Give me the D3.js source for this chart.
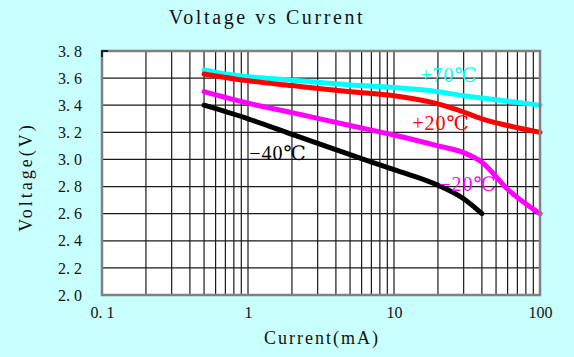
<!DOCTYPE html>
<html><head><meta charset="utf-8">
<script src="https://cdn.jsdelivr.net/npm/d3@7"></script>
<style>
html,body{margin:0;padding:0;background:#c8ffff;}
svg{display:block;}
text{font-family:"Liberation Serif","DejaVu Serif",serif;}
</style></head><body>
<svg id="chart" width="574" height="357"></svg>
<script>
// ---- data ----
const xTickValues = [0.1, 1, 10, 100];
const xTickLabels = ["0. 1", "1", "10", "100"];
const yTickValues = [2.0, 2.2, 2.4, 2.6, 2.8, 3.0, 3.2, 3.4, 3.6, 3.8];
const yTickLabels = ["2. 0","2. 2","2. 4","2. 6","2. 8","3. 0","3. 2","3. 4","3. 6","3. 8"];

const currentP70 = [0.5, 0.7, 1, 2, 5, 10, 20, 30, 50, 100];
const voltageP70 = [3.66, 3.63, 3.61, 3.585, 3.55, 3.53, 3.50, 3.47, 3.44, 3.40];

const currentP20 = [0.5, 1, 2, 5, 10, 20, 30, 40, 60, 100];
const voltageP20 = [3.63, 3.58, 3.545, 3.50, 3.47, 3.41, 3.35, 3.30, 3.25, 3.20];

const currentM20 = [0.5, 1, 2, 5, 10, 20, 30, 40, 60, 100];
const voltageM20 = [3.50, 3.415, 3.345, 3.25, 3.18, 3.10, 3.05, 2.98, 2.78, 2.60];

const currentM40 = [0.5, 1, 2, 5, 10, 20, 30, 40];
const voltageM40 = [3.40, 3.30, 3.185, 3.035, 2.925, 2.81, 2.71, 2.60];

const seriesNames = ["+70℃", "+20℃", "−20℃", "−40℃"];
const seriesColors = ["#00ffff", "#ff0000", "#ff00ff", "#000000"];

// ---- chart ----
const svg = d3.select("#chart");
const L = 102, R = 540, T = 51, B = 295;
const x = d3.scaleLog().domain([0.1, 100]).range([L, R]);
const y = d3.scaleLinear().domain([2.0, 3.8]).range([B, T]);

svg.append("rect").attr("x", L).attr("y", T).attr("width", R - L).attr("height", B - T).attr("fill", "#ffffff");

// grid
const minor = [];
for (let d = 0.1; d < 100; d *= 10) for (let k = 1; k <= 9; k++) minor.push(+(d * k).toPrecision(3));
const g = svg.append("g");
g.selectAll("line.v").data(minor.filter(v => v > 0.1)).join("line")
  .attr("x1", d => x(d)).attr("x2", d => x(d)).attr("y1", T).attr("y2", B)
  .attr("stroke", "#1a1a1a").attr("stroke-width", 1.2);
g.selectAll("line.h").data(yTickValues.slice(1, -1)).join("line")
  .attr("x1", L).attr("x2", R).attr("y1", d => y(d)).attr("y2", d => y(d))
  .attr("stroke", "#1a1a1a").attr("stroke-width", 1.2);

// series
const sets = [
  [currentP70, voltageP70], [currentP20, voltageP20],
  [currentM20, voltageM20], [currentM40, voltageM40]
];
const line = d3.line().x(d => x(d[0])).y(d => y(d[1])).curve(d3.curveMonotoneX);
sets.forEach((s, i) => {
  const pts = s[0].map((c, j) => [c, s[1][j]]);
  svg.append("path").datum(pts).attr("d", line).attr("fill", "none")
    .attr("stroke", seriesColors[i]).attr("stroke-width", 5).attr("stroke-linecap", "round");
});

// frame
svg.append("rect").attr("x", L).attr("y", T).attr("width", R - L).attr("height", B - T)
  .attr("fill", "none").attr("stroke", "#808080").attr("stroke-width", 2.5);
svg.append("path").attr("d", `M${L},${T + 6}V${T}H${L + 6}`).attr("stroke", "#000").attr("stroke-width", 1.5).attr("fill", "none");

// axes labels
const yAxis = d3.axisLeft(y).tickValues(yTickValues).tickSize(0).tickPadding(20)
  .tickFormat((d, i) => yTickLabels[i]);
const ya = svg.append("g").attr("transform", `translate(${L},0)`).call(yAxis);
ya.select(".domain").remove();
ya.selectAll("text").attr("font-family", "Liberation Serif, serif").attr("font-size", 16).attr("fill", "#111");

const xAxis = d3.axisBottom(x).tickValues(xTickValues).tickSize(0).tickPadding(12)
  .tickFormat((d, i) => xTickLabels[i]);
const xa = svg.append("g").attr("transform", `translate(0,${B})`).call(xAxis);
xa.select(".domain").remove();
xa.selectAll("text").attr("font-family", "Liberation Serif, serif").attr("font-size", 16).attr("fill", "#111");

// titles
svg.append("text").attr("x", 267).attr("y", 24).attr("text-anchor", "middle")
  .attr("font-size", 20).attr("letter-spacing", 2.6).attr("fill", "#111").text("Voltage vs Current");
svg.append("text").attr("x", 322).attr("y", 344).attr("text-anchor", "middle")
  .attr("font-size", 18).attr("letter-spacing", 2).attr("fill", "#111").text("Current(mA)");
svg.append("text").attr("transform", "translate(32,177) rotate(-90)").attr("text-anchor", "middle")
  .attr("font-size", 18).attr("letter-spacing", 3).attr("fill", "#111").text("Voltage(V)");

// series labels
const labelPos = [[449, 82], [441, 130], [468, 191], [278, 160]];
seriesNames.forEach((n, i) => {
  svg.append("text").attr("x", labelPos[i][0]).attr("y", labelPos[i][1]).attr("text-anchor", "middle")
    .attr("font-size", 20).attr("letter-spacing", 1).attr("fill", seriesColors[i]).text(n);
});
</script>
</body></html>
